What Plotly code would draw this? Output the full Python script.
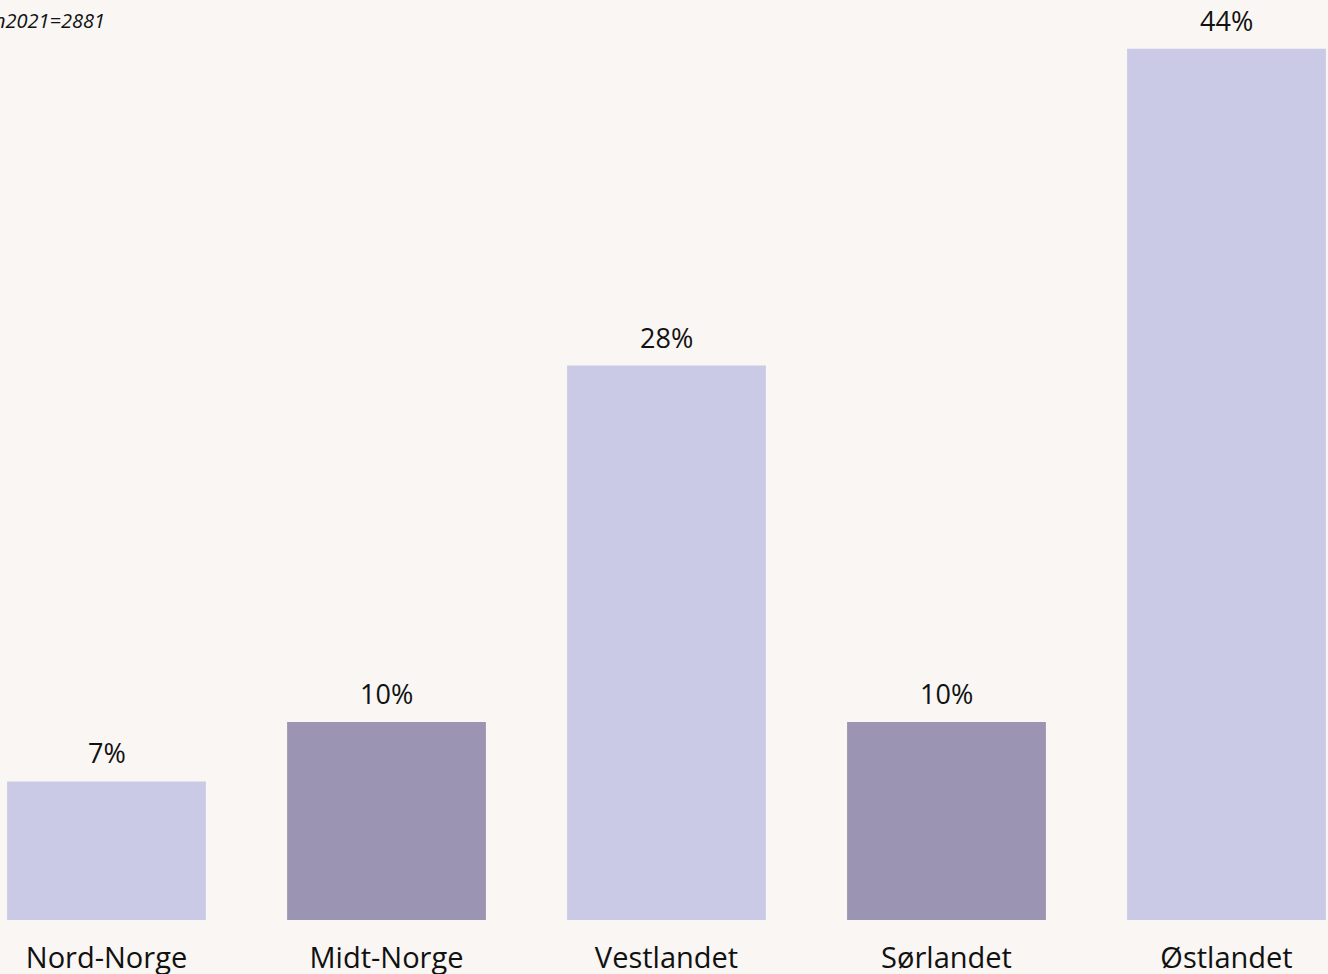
import plotly.graph_objects as go

categories = ["Nord-Norge", "Midt-Norge", "Vestlandet", "Sørlandet", "Østlandet"]
values = [7, 10, 28, 10, 44]
colors = ["#cacae6", "#9b94b2", "#cacae6", "#9b94b2", "#cacae6"]
labels = [f"{v}%" for v in values]
note = "n2021=2881"

FONT = "Open Sans, sans-serif"

fig = go.Figure()
fig.add_trace(go.Bar(
    x=categories, y=values, marker=dict(color=colors, line=dict(width=0)),
    width=0.71, hoverinfo="skip",
))
for c, v, t in zip(categories, values, labels):
    fig.add_annotation(x=c, y=v, text=t, showarrow=False, yanchor="bottom",
                       yshift=8, font=dict(family=FONT, size=27, color="#111111"))

fig.add_annotation(xref="paper", yref="paper", x=107 / 1328, y=1.0, xanchor="right",
                   yanchor="middle", yshift=-20, text=f"<i>{note}</i>", showarrow=False,
                   font=dict(family=FONT, size=20, color="#111111"))

fig.update_layout(
    width=1328, height=974,
    margin=dict(l=0, r=0, t=0, b=54, autoexpand=False),
    paper_bgcolor="#f9f6f3", plot_bgcolor="#f9f6f3",
    showlegend=False,
    xaxis=dict(range=[-0.3804, 4.3625], showgrid=False, zeroline=False, showline=False,
               ticks="", ticklabelstandoff=18, automargin=False,
               tickfont=dict(family=FONT, size=29, color="#111111")),
    yaxis=dict(range=[0, 920 / 19.8], visible=False, showgrid=False, zeroline=False,
               automargin=False),
)
fig.write_html("out.html")
